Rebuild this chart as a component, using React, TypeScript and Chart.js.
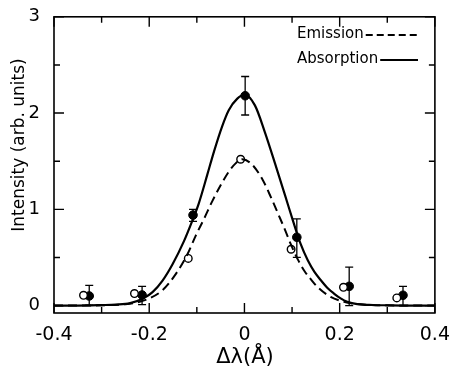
import React, { useEffect, useRef } from "react";
import { Chart, registerables } from "chart.js";
Chart.register(...registerables);

// Fitted curves
const absCurveX = [-0.4, -0.35, -0.3, -0.27, -0.24, -0.213, -0.193, -0.172, -0.151, -0.127, -0.11, -0.096, -0.078, -0.064, -0.047, -0.033, -0.015, 0.0, 0.022, 0.043, 0.064, 0.085, 0.102, 0.118, 0.133, 0.147, 0.161, 0.175, 0.188, 0.202, 0.216, 0.237, 0.27, 0.3, 0.35, 0.4];
const absCurveY = [0.0, 0.0, 0.005, 0.01, 0.025, 0.074, 0.14, 0.26, 0.43, 0.67, 0.875, 1.06, 1.36, 1.6, 1.86, 2.03, 2.15, 2.19, 2.08, 1.8, 1.48, 1.15, 0.88, 0.64, 0.47, 0.35, 0.26, 0.18, 0.125, 0.075, 0.04, 0.015, 0.006, 0.003, 0.0, 0.0];
const emiCurveX = [-0.4, -0.3, -0.25, -0.22, -0.2, -0.172, -0.144, -0.12, -0.102, -0.085, -0.068, -0.05, -0.033, -0.018, -0.005, 0.015, 0.039, 0.057, 0.071, 0.085, 0.098, 0.112, 0.126, 0.14, 0.154, 0.181, 0.209, 0.23, 0.26, 0.3, 0.4];
const emiCurveY = [0.0, 0.003, 0.015, 0.04, 0.074, 0.16, 0.33, 0.53, 0.73, 0.9, 1.08, 1.25, 1.39, 1.48, 1.52, 1.47, 1.3, 1.11, 0.95, 0.79, 0.63, 0.48, 0.36, 0.27, 0.19, 0.09, 0.04, 0.02, 0.008, 0.003, 0.0];

// Measured points
const absPointX = [-0.326, -0.215, -0.108, 0.0015, 0.11, 0.22, 0.333];
const absPointY = [0.1, 0.11, 0.94, 2.18, 0.71, 0.2, 0.107];
const absErrHigh = [0.21, 0.2, 1.0, 2.38, 0.9, 0.4, 0.2];
const absErrLow = [0.005, 0.01, 0.875, 1.98, 0.5, 0.0, 0.0];
const emiPointX = [-0.338, -0.231, -0.118, -0.008, 0.098, 0.208, 0.32];
const emiPointY = [0.107, 0.125, 0.49, 1.52, 0.585, 0.19, 0.08];

// Ticks
const xMajorTicks = [-0.4, -0.2, 0, 0.2, 0.4];
const xMinorTicks = [-0.3, -0.1, 0.1, 0.3];
const yMajorTicks = [0, 1, 2, 3];
const yMinorTicks = [0.5, 1.5, 2.5];

const xTitle = "Δλ(Å)";
const yTitle = "Intensity (arb. units)";
const legendLabels = ["Emission", "Absorption"];

const FONT = "'DejaVu Sans', sans-serif";

const zip = (xs: number[], ys: number[]) => xs.map((x, i) => ({ x, y: ys[i] }));

const decorPlugin = {
  id: "decor",
  beforeDatasetsDraw(chart: any) {
    const ctx = chart.ctx;
    const xs = chart.scales.x;
    const ys = chart.scales.y;
    ctx.save();
    ctx.strokeStyle = "#000";
    ctx.lineWidth = 1.3;
    absPointX.forEach((xv, i) => {
      const px = xs.getPixelForValue(xv);
      const top = ys.getPixelForValue(absErrHigh[i]);
      const bot = ys.getPixelForValue(absErrLow[i]);
      ctx.beginPath();
      ctx.moveTo(px, top);
      ctx.lineTo(px, bot);
      ctx.moveTo(px - 4, top);
      ctx.lineTo(px + 4, top);
      ctx.moveTo(px - 4, bot);
      ctx.lineTo(px + 4, bot);
      ctx.stroke();
    });
    ctx.restore();
  },
  afterDraw(chart: any) {
    const ctx = chart.ctx;
    const a = chart.chartArea;
    const xs = chart.scales.x;
    const ys = chart.scales.y;
    ctx.save();
    ctx.strokeStyle = "#000";
    ctx.fillStyle = "#000";
    ctx.lineWidth = 1.6;
    ctx.strokeRect(a.left, a.top, a.right - a.left, a.bottom - a.top);
    ctx.lineWidth = 1.4;
    const drawX = (v: number, len: number) => {
      const p = xs.getPixelForValue(v);
      ctx.beginPath();
      ctx.moveTo(p, a.bottom);
      ctx.lineTo(p, a.bottom - len);
      ctx.moveTo(p, a.top);
      ctx.lineTo(p, a.top + len);
      ctx.stroke();
    };
    const drawY = (v: number, len: number) => {
      const p = ys.getPixelForValue(v);
      ctx.beginPath();
      ctx.moveTo(a.left, p);
      ctx.lineTo(a.left + len, p);
      ctx.moveTo(a.right, p);
      ctx.lineTo(a.right - len, p);
      ctx.stroke();
    };
    xMajorTicks.forEach((v) => drawX(v, 10));
    xMinorTicks.forEach((v) => drawX(v, 6));
    yMajorTicks.forEach((v) => drawY(v, 10));
    yMinorTicks.forEach((v) => drawY(v, 6));

    // legend
    ctx.font = `15px ${FONT}`;
    ctx.textBaseline = "middle";
    ctx.textAlign = "left";
    const lx = 297;
    const lineEnd = 418;
    const ly = [34, 59];
    legendLabels.forEach((t, i) => {
      ctx.fillText(t, lx, ly[i]);
      const w = ctx.measureText(t).width;
      ctx.beginPath();
      ctx.lineWidth = 2;
      ctx.setLineDash(i === 0 ? [7, 4] : []);
      ctx.moveTo(lx + w + 2, ly[i] + 1);
      ctx.lineTo(lineEnd, ly[i] + 1);
      ctx.stroke();
    });
    ctx.setLineDash([]);

    // axis titles
    ctx.font = `21px ${FONT}`;
    ctx.textAlign = "center";
    ctx.textBaseline = "middle";
    ctx.fillText(xTitle, 245, 358);
    ctx.save();
    ctx.translate(20, 145);
    ctx.rotate(-Math.PI / 2);
    ctx.font = `17px ${FONT}`;
    ctx.fillText(yTitle, 0, 0);
    ctx.restore();
    ctx.restore();
  },
};

export default function App() {
  const ref = useRef<HTMLCanvasElement | null>(null);
  useEffect(() => {
    if (!ref.current) return;
    const chart = new Chart(ref.current, {
      type: "scatter",
      data: {
        datasets: [
          {
            label: "Absorption fit",
            data: zip(absCurveX, absCurveY),
            showLine: true,
            borderColor: "#000",
            borderWidth: 2.2,
            pointRadius: 0,
            cubicInterpolationMode: "monotone",
          } as any,
          {
            label: "Emission fit",
            data: zip(emiCurveX, emiCurveY),
            showLine: true,
            borderColor: "#000",
            borderWidth: 2,
            borderDash: [9, 5],
            pointRadius: 0,
            cubicInterpolationMode: "monotone",
          } as any,
          {
            label: "Emission",
            data: zip(emiPointX, emiPointY),
            pointRadius: 3.8,
            pointBackgroundColor: "#fff",
            pointBorderColor: "#000",
            pointBorderWidth: 1.4,
          },
          {
            label: "Absorption",
            data: zip(absPointX, absPointY),
            pointRadius: 4.3,
            pointBackgroundColor: "#000",
            pointBorderColor: "#000",
            pointBorderWidth: 1,
          },
        ],
      },
      options: {
        animation: false,
        responsive: false,
        layout: { padding: { left: 0, right: 15, top: 12, bottom: 0 } },
        plugins: { legend: { display: false }, tooltip: { enabled: false } },
        scales: {
          x: {
            type: "linear",
            min: -0.4,
            max: 0.4,
            grid: { display: false },
            border: { display: false },
            afterFit: (s: any) => {
              s.height = 63;
            },
            afterBuildTicks: (s: any) => {
              s.ticks = xMajorTicks.map((v) => ({ value: v }));
            },
            ticks: {
              color: "#000",
              padding: 3,
              maxRotation: 0,
              font: { family: FONT, size: 19 },
              callback: (v: any) => (Number(v) === 0 ? "0" : Number(v).toFixed(1)),
            },
          },
          y: {
            type: "linear",
            min: -0.077,
            max: 3,
            grid: { display: false },
            border: { display: false },
            afterFit: (s: any) => {
              s.width = 54;
            },
            afterBuildTicks: (s: any) => {
              s.ticks = yMajorTicks.map((v) => ({ value: v }));
            },
            ticks: {
              color: "#000",
              padding: 6,
              font: { family: FONT, size: 18 },
              callback: (v: any) => String(v),
            },
          },
        },
      },
      plugins: [decorPlugin],
    } as any);
    return () => chart.destroy();
  }, []);
  return (
    <div style={{ position: "absolute", left: 0, top: 0, width: 453, height: 376, background: "#fff" }}>
      <canvas ref={ref} width={453} height={376} />
    </div>
  );
}
